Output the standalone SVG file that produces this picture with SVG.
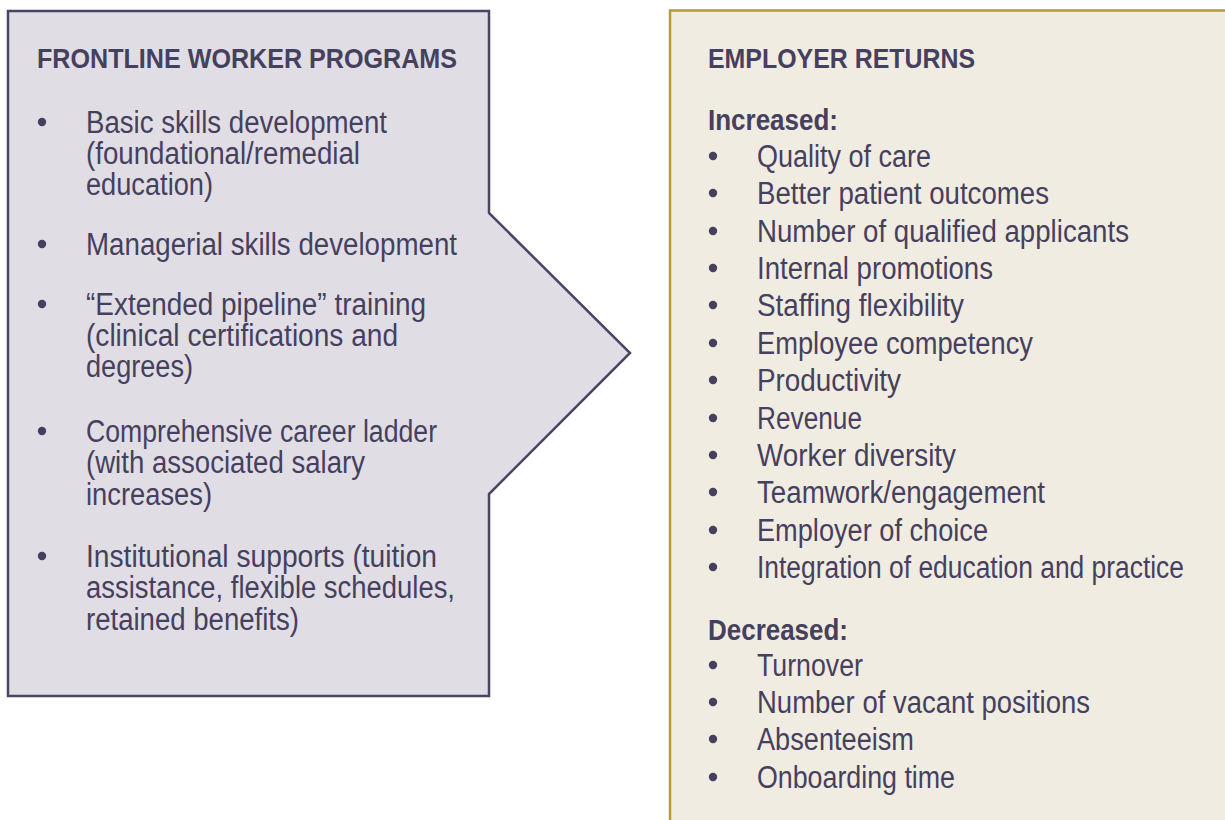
<svg xmlns="http://www.w3.org/2000/svg" width="1225" height="820" viewBox="0 0 1225 820">
<style>
.t{font-family:"Liberation Sans",Arial,sans-serif;font-size:31px;fill:#46405f}
.h{font-family:"Liberation Sans",Arial,sans-serif;font-size:28px;font-weight:bold;fill:#46405f}
.s{font-family:"Liberation Sans",Arial,sans-serif;font-size:30px;font-weight:bold;fill:#46405f}
.b{fill:#46405f}
</style>
<rect width="1225" height="820" fill="#ffffff"/>
<g id="frontline-programs">
<polygon points="8,11 489,11 489,213 630,353 489,494 489,696 8,696" fill="#e0dee4" stroke="#4a4565" stroke-width="2.5"/>
<text class="h" x="37" y="68" textLength="420" lengthAdjust="spacingAndGlyphs">FRONTLINE WORKER PROGRAMS</text>
<circle class="b" cx="42" cy="122" r="4.2"/>
<text class="t" x="86" y="133" textLength="301" lengthAdjust="spacingAndGlyphs">Basic skills development</text>
<text class="t" x="86" y="164" textLength="274" lengthAdjust="spacingAndGlyphs">(foundational/remedial</text>
<text class="t" x="86" y="195" textLength="127" lengthAdjust="spacingAndGlyphs">education)</text>
<circle class="b" cx="42" cy="244" r="4.2"/>
<text class="t" x="86" y="255" textLength="371" lengthAdjust="spacingAndGlyphs">Managerial skills development</text>
<circle class="b" cx="42" cy="304" r="4.2"/>
<text class="t" x="86" y="315" textLength="340" lengthAdjust="spacingAndGlyphs">“Extended pipeline” training</text>
<text class="t" x="86" y="346" textLength="312" lengthAdjust="spacingAndGlyphs">(clinical certifications and</text>
<text class="t" x="86" y="377" textLength="107" lengthAdjust="spacingAndGlyphs">degrees)</text>
<circle class="b" cx="42" cy="431" r="4.2"/>
<text class="t" x="86" y="442" textLength="351" lengthAdjust="spacingAndGlyphs">Comprehensive career ladder</text>
<text class="t" x="86" y="473" textLength="279" lengthAdjust="spacingAndGlyphs">(with associated salary</text>
<text class="t" x="86" y="505" textLength="126" lengthAdjust="spacingAndGlyphs">increases)</text>
<circle class="b" cx="42" cy="556" r="4.2"/>
<text class="t" x="86" y="567" textLength="351" lengthAdjust="spacingAndGlyphs">Institutional supports  (tuition</text>
<text class="t" x="86" y="598" textLength="369" lengthAdjust="spacingAndGlyphs">assistance, flexible schedules,</text>
<text class="t" x="86" y="630" textLength="213" lengthAdjust="spacingAndGlyphs">retained benefits)</text>
</g>
<g id="employer-returns">
<rect x="670" y="10.5" width="600" height="850" fill="#f1ece1" stroke="#b5993d" stroke-width="2.5"/>
<text class="h" x="708" y="68" textLength="267" lengthAdjust="spacingAndGlyphs">EMPLOYER RETURNS</text>
<text class="s" x="708" y="130" textLength="130" lengthAdjust="spacingAndGlyphs">Increased:</text>
<circle class="b" cx="713" cy="156" r="4.2"/>
<text class="t" x="757" y="167" textLength="174" lengthAdjust="spacingAndGlyphs">Quality of care</text>
<circle class="b" cx="713" cy="193" r="4.2"/>
<text class="t" x="757" y="204" textLength="292" lengthAdjust="spacingAndGlyphs">Better patient outcomes</text>
<circle class="b" cx="713" cy="231" r="4.2"/>
<text class="t" x="757" y="242" textLength="372" lengthAdjust="spacingAndGlyphs">Number of qualified applicants</text>
<circle class="b" cx="713" cy="268" r="4.2"/>
<text class="t" x="757" y="279" textLength="236" lengthAdjust="spacingAndGlyphs">Internal promotions</text>
<circle class="b" cx="713" cy="305" r="4.2"/>
<text class="t" x="757" y="316" textLength="207" lengthAdjust="spacingAndGlyphs">Staffing flexibility</text>
<circle class="b" cx="713" cy="343" r="4.2"/>
<text class="t" x="757" y="354" textLength="276" lengthAdjust="spacingAndGlyphs">Employee competency</text>
<circle class="b" cx="713" cy="380" r="4.2"/>
<text class="t" x="757" y="391" textLength="144" lengthAdjust="spacingAndGlyphs">Productivity</text>
<circle class="b" cx="713" cy="418" r="4.2"/>
<text class="t" x="757" y="429" textLength="105" lengthAdjust="spacingAndGlyphs">Revenue</text>
<circle class="b" cx="713" cy="455" r="4.2"/>
<text class="t" x="757" y="466" textLength="199" lengthAdjust="spacingAndGlyphs">Worker diversity</text>
<circle class="b" cx="713" cy="492" r="4.2"/>
<text class="t" x="757" y="503" textLength="288" lengthAdjust="spacingAndGlyphs">Teamwork/engagement</text>
<circle class="b" cx="713" cy="530" r="4.2"/>
<text class="t" x="757" y="541" textLength="231" lengthAdjust="spacingAndGlyphs">Employer of choice</text>
<circle class="b" cx="713" cy="567" r="4.2"/>
<text class="t" x="757" y="578" textLength="427" lengthAdjust="spacingAndGlyphs">Integration of education and practice</text>
<text class="s" x="708" y="640" textLength="140" lengthAdjust="spacingAndGlyphs">Decreased:</text>
<circle class="b" cx="713" cy="665" r="4.2"/>
<text class="t" x="757" y="676" textLength="106" lengthAdjust="spacingAndGlyphs">Turnover</text>
<circle class="b" cx="713" cy="702" r="4.2"/>
<text class="t" x="757" y="713" textLength="333" lengthAdjust="spacingAndGlyphs">Number of vacant positions</text>
<circle class="b" cx="713" cy="739" r="4.2"/>
<text class="t" x="757" y="750" textLength="157" lengthAdjust="spacingAndGlyphs">Absenteeism</text>
<circle class="b" cx="713" cy="777" r="4.2"/>
<text class="t" x="757" y="788" textLength="198" lengthAdjust="spacingAndGlyphs">Onboarding time</text>
</g>
<g id="connectors"></g>
</svg>
